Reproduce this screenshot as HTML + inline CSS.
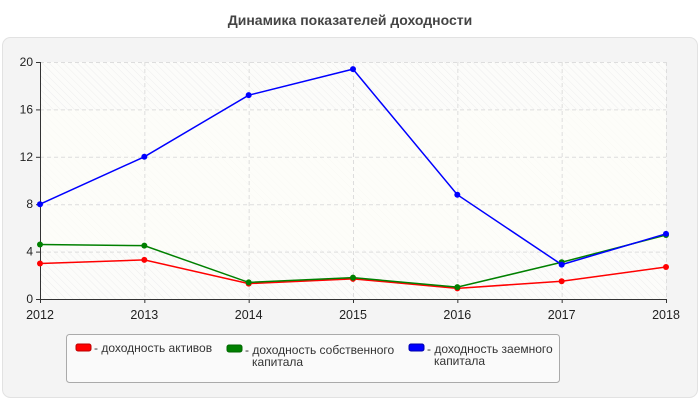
<!DOCTYPE html>
<html><head><meta charset="utf-8"><style>
body{margin:0;background:#fff;font-family:"Liberation Sans",sans-serif;}
</style></head><body>
<svg width="700" height="400" xmlns="http://www.w3.org/2000/svg" font-family="Liberation Sans, sans-serif">
<defs><pattern id="hatch" width="5" height="5" patternUnits="userSpaceOnUse" patternTransform="rotate(-45)"><rect width="5" height="5" fill="#fcfcfa"/><line x1="0" y1="0" x2="0" y2="5" stroke="#eeeeee" stroke-width="1"/></pattern></defs>
<text x="350" y="25" text-anchor="middle" font-size="14" font-weight="bold" fill="#444">Динамика показателей доходности</text>
<rect x="2.5" y="37.5" width="695" height="360" rx="8" fill="#f4f4f4" stroke="#e2e2e2"/>
<rect x="40" y="62" width="626" height="237" fill="url(#hatch)"/>
<rect x="40" y="110" width="626" height="140" fill="#fdfdf8" opacity="0.7"/>
<g id="grid"></g><g id="axes"></g><g id="series"></g>
<g>
<rect x="66.5" y="334.5" width="493" height="48" rx="3" fill="#fafafa" stroke="#aaa"/>
<rect x="76" y="344" width="15" height="7" rx="2" fill="red" stroke="#b00"/>
<text x="94" y="352" font-size="12" fill="#333">- доходность активов</text>
<rect x="227" y="345" width="15" height="7" rx="2" fill="green" stroke="#060"/>
<text x="245" y="354" font-size="12" fill="#333">- доходность собственного</text>
<text x="252" y="366" font-size="12" fill="#333">капитала</text>
<rect x="409" y="344" width="15" height="7" rx="2" fill="blue" stroke="#00a"/>
<text x="427" y="353" font-size="12" fill="#333">- доходность заемного</text>
<text x="434" y="365" font-size="12" fill="#333">капитала</text>
</g>
</svg>
<script>
const categories=["2012","2013","2014","2015","2016","2017","2018"];
const yTicks=[0,4,8,12,16,20];
const assets=[3.0,3.3,1.3,1.7,0.9,1.5,2.7];
const equity=[4.6,4.5,1.4,1.8,1.0,3.1,5.4];
const debt=[8.0,12.0,17.2,19.4,8.8,2.9,5.5];
const NS="http://www.w3.org/2000/svg";
const X0=40,X1=666,Y0=299,Y1=62,YMAX=20;
const xs=i=>X0+i*(X1-X0)/(categories.length-1);
const ys=v=>Y0-v*(Y0-Y1)/YMAX;
function mk(t,a,p){const e=document.createElementNS(NS,t);for(const k in a)e.setAttribute(k,a[k]);p.appendChild(e);return e;}
const grid=document.getElementById('grid'),axes=document.getElementById('axes'),ser=document.getElementById('series');
yTicks.forEach(v=>{const y=ys(v)+0.5;
 if(v>0){const g=mk('line',{x1:X0,x2:X1,y1:y,y2:y,stroke:'#ddd','stroke-dasharray':'4,3'},grid);
 
 }
 mk('line',{x1:X0-4,x2:X0,y1:y,y2:y,stroke:'#333'},axes);
 const t=mk('text',{x:X0-7,y:ys(v)+4,'text-anchor':'end','font-size':12,fill:'#222'},axes);t.textContent=v;
 
 });
categories.forEach((c,i)=>{const x=xs(i)+0.5;
 if(i>0){const g=mk('line',{x1:x,x2:x,y1:Y1,y2:Y0,stroke:'#ddd','stroke-dasharray':'4,3'},grid);
 
 }
 mk('line',{x1:x,x2:x,y1:Y0,y2:Y0+4,stroke:'#333'},axes);
 const t=mk('text',{x:xs(i),y:319,'text-anchor':'middle','font-size':12.5,fill:'#222'},axes);t.textContent=c;
 
 });
const ax=mk('path',{d:`M${X0+0.5},${Y1} V${Y0+0.5} H${X1+1}`,stroke:'#333',fill:'none'},axes);


[[assets,'red','assets'],[equity,'green','equity'],[debt,'blue','debt']].forEach(([d,c,n])=>{
 const l=mk('polyline',{points:d.map((v,i)=>xs(i)+','+ys(v)).join(' '),fill:'none',stroke:c,'stroke-width':1.5},ser);
 
 
 d.forEach((v,i)=>{const p=mk('circle',{cx:xs(i),cy:ys(v),r:3,fill:c},ser);
 
 });
});
</script>
</body></html>
